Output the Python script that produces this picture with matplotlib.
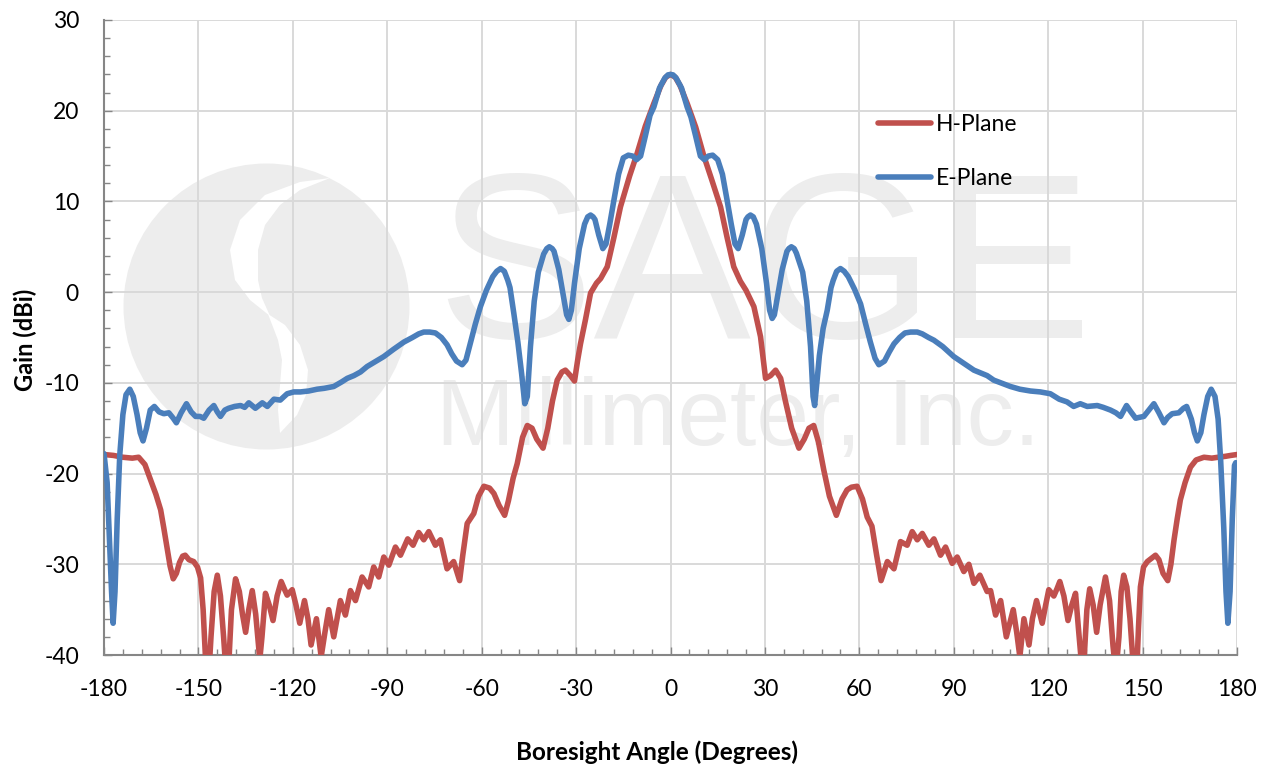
import matplotlib
matplotlib.use("Agg")
import matplotlib.pyplot as plt
from matplotlib.patches import Circle, Polygon
from matplotlib.ticker import MultipleLocator

plt.rcParams["axes.unicode_minus"] = False

# H-plane gain (dBi)
h_angle = [-180, -177, -174, -171, -169, -167, -165.2, -163.5, -162, -161, -160, -159, -158, -157, -156, -155,
           -154.2, -153, -151.5, -150.3, -149.3, -148.5, -147.8, -147, -146, -145, -144, -143, -142, -141.4,
           -140.5, -139.5, -138.2, -137, -136, -135, -134, -132.9, -131.8, -130.5, -129.8, -128.7, -127.5,
           -126.3, -125, -123.7, -122.6, -121.8, -120.2, -119, -117.8, -116.3, -115.2, -114.2, -112.5, -111,
           -109.8, -108.6, -107, -104.9, -103.3, -101.7, -100.1, -98, -95.9, -94.3, -92.7, -91.1, -89.5, -87.4,
           -85.8, -83.5, -81.8, -80, -78.4, -76.8, -74.7, -73.1, -71, -68.9, -67, -66, -64.6, -62.5, -61, -59.3,
           -57.5, -56.1, -54.5, -52.7, -51.5, -50, -48.7, -47, -45.5, -44, -42.5, -40.5, -39, -37.5, -36, -34.5,
           -33.4, -31.8, -30.5, -29.5, -28.6, -27, -25.4, -23.5, -22.2, -20.1, -18, -15.9, -13, -10.6, -8, -5.3,
           -3, -1.5, 0,
           1.5, 3, 5.3, 8, 10.6, 13, 15.9, 18, 20.1, 22.2, 24, 26.5, 28.6, 30.2, 31.8, 33.4, 35, 36.5, 38.5,
           40.8, 42.5, 44, 45.5, 47, 48.7, 50.5, 52.7, 54.5, 56.1, 57.5, 59.3, 61, 62.5, 64, 65.5, 66.9, 68.9,
           71, 73.1, 75.2, 76.8, 78.4, 80, 82.1, 83.7, 85.8, 87.4, 89.5, 91.1, 93.2, 94.8, 96.4, 98.3, 100.6,
           101.7, 103.3, 104.9, 106.7, 108.9, 110, 111, 112.3, 113.9, 115, 116.3, 118.1, 119.2, 120.2, 121.8,
           122.8, 123.7, 125, 126.3, 127.5, 128.7, 129.6, 130.6, 131.5, 132.3, 133.2, 134.3, 135.4, 136.5, 138.2,
           139.5, 140.6, 141.5, 142.5, 143.2, 144, 145, 146, 147, 148, 148.7, 149.3, 150.3, 151.5, 153, 154.1,
           155.2, 156.5, 158, 159, 160, 161, 162, 163.5, 165.2, 167, 169.5, 172, 174, 176.3, 178, 180]
h_gain = [-17.9, -18.0, -18.2, -18.3, -18.2, -19.0, -20.7, -22.3, -24, -26, -28.1, -30.2, -31.6, -31.0, -29.8, -29.1,
          -29.0, -29.5, -29.7, -30.3, -31.5, -35, -40, -44, -38, -33, -31.2, -33.5, -38, -41,
          -42, -35, -31.6, -33, -35.5, -37.5, -35, -32.9, -35.5, -40.5, -38, -33.2, -34.5,
          -36.2, -33.5, -31.9, -32.8, -33.4, -32.8, -34.5, -36.5, -34, -36, -38.9, -36, -40.2,
          -37.5, -35, -38, -34, -35.6, -32.9, -34, -31.4, -32.5, -30.3, -31.4, -29.2, -30.1, -28.1,
          -29, -27.2, -27.9, -26.5, -27.3, -26.4, -27.9, -27.3, -30.5, -29.7, -31.8, -29, -25.5, -24.4, -22.5, -21.4,
          -21.6, -22.2, -23.5, -24.6, -23, -20.5, -18.9, -16, -14.7, -15, -16.2, -17.2, -15, -12, -9.7, -8.8,
          -8.6, -9.2, -9.8, -7.5, -5.7, -3, -0.1, 1.0, 1.5, 2.8, 6, 9.4, 12.8, 15.3, 18.3, 20.8,
          22.8, 23.7, 24.0,
          23.7, 22.8, 20.8, 18.2, 15.0, 12.5, 9.4, 6, 2.8, 1.2, 0.2, -1.6, -4.9, -9.5, -9.2, -8.6, -9.5, -12, -15,
          -17.2, -16.2, -15, -14.7, -16.5, -19.6, -22.5, -24.6, -22.8, -21.8, -21.5, -21.4, -22.8, -24.8, -25.8, -29, -31.8, -29.7,
          -30.5, -27.5, -27.9, -26.4, -27.3, -26.6, -27.9, -27.2, -29, -28.1, -29.9, -29.2, -30.8, -30.0, -32.1, -31.2, -33.0,
          -32.9, -35.6, -34, -38, -35, -37.5, -40.2, -36, -38.9, -36, -34, -36.5, -34.5, -32.8, -33.5,
          -32.7, -31.9, -33.5, -36.2, -34.5, -33.2, -37, -41, -40, -35, -32.7, -34.5, -37.5, -34.5, -31.4,
          -34, -39, -42, -38, -33, -31.2, -32.5, -36, -41, -43, -37, -32.5, -30.3, -29.7, -29.3, -29.0,
          -29.5, -31, -31.8, -30, -27.3, -25, -22.9, -21, -19.3, -18.5, -18.2, -18.3, -18.2, -18.1, -18.0, -17.9]

# E-plane gain (dBi)
e_angle = [-180, -179, -178.3, -177.6, -177.1, -176.5, -175.8, -175, -174, -173, -171.8, -170.7, -169.5, -168.5,
           -167.6, -166.5, -165.3, -164, -162.5, -161, -159.4, -158, -157, -155.5, -153.8, -152.3, -150.9, -149.5,
           -148.3, -146.6, -145.1, -144, -143, -141.6, -140.4, -138.5, -136.6, -135.3, -134, -131.9, -129.7,
           -128.1, -126, -124, -121.8, -119.7, -117.6, -115, -112.3, -110, -107, -104.5, -102.7, -100.6, -98.5,
           -96.4, -94, -91.1, -88, -84.7, -82, -80, -78.4, -76.5, -74.7, -72.8, -71, -69.5, -68, -66.2, -65,
           -63.5, -62, -60.4, -58.5, -56.5, -55.2, -54, -52.8, -51.7, -51, -49.8, -48.5, -47.3, -46.3, -45.5,
           -44.5, -43.3, -42, -40.3, -39.3, -38.5, -37.6, -37, -35.5, -34, -33, -32.3, -31.5, -30.5, -29, -27.3,
           -26.3, -25.4, -24.6, -24, -22.8, -21.5, -20.5, -19.3, -18, -16.5, -15, -13.4, -12, -10.8, -9.5, -8,
           -6.5, -5.3, -3.5, -1.8, -0.8, 0,
           0.8, 1.8, 3.5, 5.3, 6.5, 8, 9.5, 10.8, 12, 13.4, 15, 16.5, 18, 19.3, 20.5, 21.5, 22.8, 24, 24.6, 25.4,
           26.3, 27.3, 29, 30.5, 31.5, 32.3, 33, 34, 35.5, 37, 37.6, 38.4, 39.3, 40, 42, 43.3, 44.5, 45.3, 45.8,
           46.5, 47.3, 48.5, 49.8, 51, 51.7, 52.8, 54, 55.2, 56.5, 58.5, 60.4, 62, 63.5, 65, 66.2, 68, 69.5, 71,
           72.8, 74.5, 76.3, 78.4, 80, 82, 83.7, 86.5, 90, 93, 96.4, 98.5, 100.6, 102.7, 105, 108, 111, 114.4,
           117.5, 120.7, 123.5, 126, 128.1, 130.2, 132.4, 135.6, 137.5, 139.8, 141.5, 143, 144.9, 146.3, 147.8,
           149, 150.4, 152, 153.6, 155.2, 156.8, 158, 159.4, 161.5, 163, 164, 165.5, 166.5, 167.4, 168.5, 169.5,
           170.7, 171.8, 173, 174, 174.8, 175.8, 176.5, 177.1, 177.8, 178.5, 179.2, 179.6]
e_gain = [-17.8, -21, -27, -33, -36.5, -33, -25, -18, -13.5, -11.3, -10.7, -11.5, -13.5, -15.5,
          -16.4, -15, -13, -12.6, -13.2, -13.4, -13.3, -13.9, -14.4, -13.3, -12.3, -13.2, -13.7, -13.7,
          -13.9, -13, -12.5, -13.2, -13.7, -13, -12.8, -12.6, -12.5, -12.7, -12.2, -12.8, -12.2,
          -12.6, -11.8, -11.9, -11.2, -11.0, -11.0, -10.9, -10.7, -10.6, -10.4, -9.9, -9.5, -9.2, -8.8,
          -8.2, -7.7, -7.1, -6.3, -5.5, -5.0, -4.6, -4.4, -4.4, -4.5, -5.0, -5.8, -6.8, -7.6, -8.0, -7.5,
          -5.5, -3.5, -1.6, 0.2, 1.7, 2.3, 2.6, 2.3, 1.3, 0.5, -2.3, -5.5, -9, -12.3, -11.5,
          -6, -1, 2.2, 4.2, 4.8, 5.0, 4.8, 4.5, 2.5, -0.5, -2.5, -3.0, -2.0, 1.0, 4.8, 7.5,
          8.3, 8.5, 8.3, 8.0, 6.3, 4.8, 5.3, 7.5, 10.1, 13, 14.8, 15.1, 15.0, 14.6, 15.0, 17.2,
          19.5, 20.4, 22.5, 23.6, 23.95, 24.0,
          23.95, 23.6, 22.5, 20.4, 19.3, 17.2, 15.0, 14.6, 15.0, 15.1, 14.6, 13, 10.1, 7.5, 5.3, 4.8, 6.3, 8.0, 8.3, 8.5,
          8.3, 7.5, 4.8, 1.0, -2.0, -2.9, -2.5, -0.5, 2.5, 4.5, 4.8, 5.0, 4.8, 4.3, 2.2, -1, -6, -11.5, -12.5,
          -10, -7, -4, -2, 0.5, 1.3, 2.3, 2.6, 2.3, 1.7, 0.3, -1.3, -3.5, -5.5, -7.3, -8.0, -7.6, -6.6, -5.7,
          -5.0, -4.5, -4.4, -4.4, -4.6, -5.0, -5.3, -6.0, -7.1, -7.8, -8.6, -8.9, -9.2, -9.7, -10.0, -10.4, -10.7, -10.9,
          -11.0, -11.2, -11.8, -12.1, -12.6, -12.3, -12.6, -12.5, -12.7, -13.0, -13.3, -13.7, -12.5, -13.2, -13.9,
          -13.8, -13.7, -13.0, -12.3, -13.3, -14.4, -13.8, -13.4, -13.3, -12.8, -12.6, -14, -15.5, -16.4, -15.5, -13.5,
          -11.5, -10.7, -11.5, -14, -18.5, -26, -33, -36.5, -33, -25, -19.1, -18.8]

x_ticks = list(range(-180, 181, 30))
y_ticks = list(range(-40, 31, 10))

red = "#C0504D"
blue = "#4A7EBB"
grey_wm = "#EDEDED"

fig = plt.figure(figsize=(12.68, 7.71), dpi=100)

# background layer in pixel units for the faint company watermark
bg = fig.add_axes([0, 0, 1, 1], zorder=0)
bg.set_xlim(0, 1268)
bg.set_ylim(771, 0)
bg.axis("off")
bg.add_patch(Circle((266.5, 306.5), 143, color=grey_wm, lw=0))
upper_gap = [(330, 178), (300, 182), (265, 195), (240, 220), (230, 250), (235, 280), (250, 300), (270, 316),
             (262, 298), (258, 280), (258, 250), (265, 225), (280, 205), (300, 190)]
lower_gap = [(268, 314), (285, 325), (300, 345), (308, 370), (306, 395), (297, 415), (280, 433),
             (278, 410), (280, 385), (282, 360), (278, 340)]
bg.add_patch(Polygon(upper_gap, closed=True, color="white", lw=0))
bg.add_patch(Polygon(lower_gap, closed=True, color="white", lw=0))
bg.text(436, 338, "SAGE", fontsize=170, family="Liberation Sans", color=grey_wm, va="baseline", ha="left")
bg.text(436, 445, "Millimeter, Inc.", fontsize=68, family="Liberation Sans", color=grey_wm,
        va="baseline", ha="left")

ax = fig.add_axes([104 / 1268, 116 / 771, 1133 / 1268, 635 / 771], zorder=1)
ax.patch.set_alpha(0)

ax.plot(h_angle, h_gain, color=red, lw=4.0, label="H-Plane", solid_joinstyle="round",
        solid_capstyle="round", zorder=3)
ax.plot(e_angle, e_gain, color=blue, lw=4.0, label="E-Plane", solid_joinstyle="round",
        solid_capstyle="round", zorder=4)

ax.set_xlim(-180, 180)
ax.set_ylim(-40, 30)
ax.set_xticks(x_ticks)
ax.set_yticks(y_ticks)
ax.xaxis.set_minor_locator(MultipleLocator(6))
ax.yaxis.set_minor_locator(MultipleLocator(2))
ax.grid(True, which="major", color="#D9D9D9", lw=1.4)
ax.set_axisbelow(True)

for s in ["top", "right"]:
    ax.spines[s].set_visible(False)
for s in ["left", "bottom"]:
    ax.spines[s].set_color("#868686")
    ax.spines[s].set_linewidth(1.5)

ax.tick_params(which="major", direction="in", length=6, width=1, color="#868686",
               labelsize=16.5, labelfontfamily="Lato")
ax.tick_params(which="minor", direction="in", length=4.5, width=1, color="#868686")
ax.tick_params(axis="y", which="major", pad=18)
ax.tick_params(axis="x", which="major", pad=17)

ax.legend(loc="upper left", bbox_to_anchor=(0.683, 0.852), frameon=False,
          prop={"family": "Lato", "size": 16.5}, handlelength=2.3, handletextpad=0.25,
          labelspacing=1.42, borderpad=0, borderaxespad=0)

fig.text(657 / 1268, 1 - 752 / 771, "Boresight Angle (Degrees)", ha="center", va="center",
         fontsize=17.5, fontweight="bold", family="Lato")
fig.text(25 / 1268, 1 - 340 / 771, "Gain (dBi)", ha="center", va="center", rotation=90,
         fontsize=17, fontweight="bold", family="Lato")

fig.savefig("out.png", dpi=100)
